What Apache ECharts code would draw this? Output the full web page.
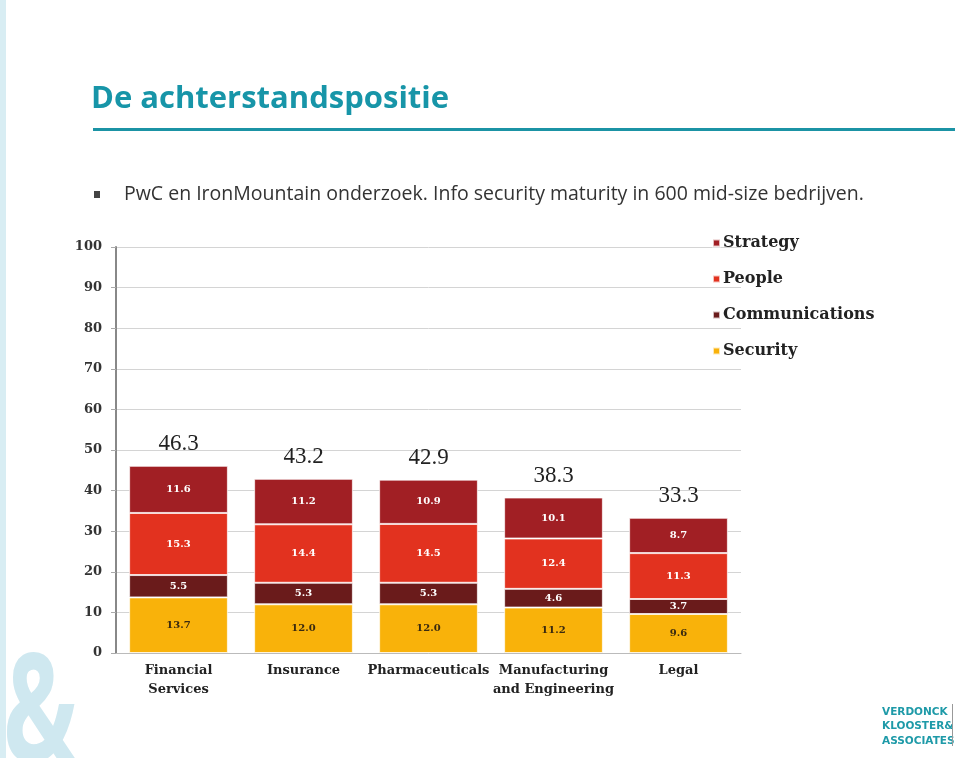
<!DOCTYPE html>
<html><head><meta charset="utf-8">
<script src="https://cdn.jsdelivr.net/npm/echarts@6/dist/echarts.min.js"></script>
<style>html,body{margin:0;padding:0;background:#fff}#c{width:960px;height:758px}</style>
</head><body><div id="c"></div>
<script>
const categories = ['Financial\nServices', 'Insurance', 'Pharmaceuticals', 'Manufacturing\nand Engineering', 'Legal'];
const security = [13.7, 12.0, 12.0, 11.2, 9.6];
const communications = [5.5, 5.3, 5.3, 4.6, 3.7];
const people = [15.3, 14.4, 14.5, 12.4, 11.3];
const strategy = [11.6, 11.2, 10.9, 10.1, 8.7];
const totals = [46.3, 43.2, 42.9, 38.3, 33.3];
const yTicks = [0, 10, 20, 30, 40, 50, 60, 70, 80, 90, 100];

const serif = '"DejaVu Serif", "Liberation Serif", serif';
const serif2 = '"Liberation Serif", "DejaVu Serif", serif';
const colors = { Strategy: '#A11F24', People: '#E2321F', Communications: '#6A1B1B', Security: '#F9B20A' };

function seg(name, data, labelColor) {
  return {
    name, type: 'bar', stack: 's', data, barWidth: '79%',
    itemStyle: { color: colors[name], borderColor: 'rgba(255,255,255,0.7)', borderWidth: 1 },
    label: { show: true, position: 'inside', color: labelColor, fontFamily: serif, fontWeight: 'bold', fontSize: 10,
      formatter: p => p.value.toFixed(1) },
    emphasis: { disabled: true }
  };
}

const chart = echarts.init(document.getElementById('c'));
chart.setOption({
  animation: false,
  backgroundColor: '#fff',
  grid: { left: 116, right: 219, top: 247, bottom: 105 },
  legend: {
    orient: 'vertical', left: 707, top: 230, itemWidth: 7, itemHeight: 7, itemGap: 20, icon: 'rect',
    data: ['Strategy', 'People', 'Communications', 'Security'],
    textStyle: { fontFamily: serif, fontWeight: 'bold', fontSize: 16, color: '#222', padding: [0, 0, 0, -2] }
  },
  xAxis: {
    type: 'category', data: categories,
    axisLine: { show: true, lineStyle: { color: '#bbb' } },
    axisTick: { show: false },
    axisLabel: { fontFamily: serif, fontWeight: 'bold', fontSize: 13, color: '#222', lineHeight: 19, margin: 8, interval: 0 }
  },
  yAxis: {
    type: 'value', min: 0, max: 100, interval: 10,
    axisLine: { show: true, lineStyle: { color: '#888', width: 2 } },
    axisTick: { show: true, length: 5, lineStyle: { color: '#aaa' } },
    axisLabel: { fontFamily: serif, fontWeight: 'bold', fontSize: 13, color: '#333', margin: 14,
      formatter: v => yTicks.includes(v) ? String(v) : '' },
    splitLine: { lineStyle: { color: '#d4d4d4', width: 1 } }
  },
  series: [
    seg('Security', security, '#3a2a10'),
    seg('Communications', communications, '#fff'),
    seg('People', people, '#fff'),
    seg('Strategy', strategy, '#fff'),
    {
      name: 'Total', type: 'bar', stack: 's', data: totals.map(() => 0), barWidth: '79%',
      label: { show: true, position: 'top', distance: 10, fontFamily: serif2, fontSize: 23, color: '#222',
        formatter: p => totals[p.dataIndex].toFixed(1) },
      itemStyle: { color: 'transparent' }
    }
  ],
  graphic: [
    { type: 'text', x: 3, y: 644, scaleX: 0.66, style: { text: '&', fontFamily: '"Open Sans", sans-serif', fontWeight: 'bold', fontSize: 150, fill: '#CFE8F0' } },
    { type: 'rect', left: 0, top: 0, shape: { width: 6, height: 758 }, style: { fill: '#D8EDF3' } },
    { type: 'text', left: 91, top: 84, style: { text: 'De achterstandspositie', fontFamily: '"Open Sans", sans-serif', fontWeight: 'bold', fontSize: 31, fill: '#1795A8' } },
    { type: 'rect', left: 93, top: 128, shape: { width: 862, height: 3 }, style: { fill: '#1B93A5' } },
    { type: 'rect', left: 94, top: 191, shape: { width: 6, height: 7 }, style: { fill: '#444' } },
    { type: 'text', left: 124, top: 184, style: { text: 'PwC en IronMountain onderzoek. Info security maturity in 600 mid-size bedrijven.', fontFamily: '"Open Sans", sans-serif', fontSize: 19.5, fill: '#333' } },
    { type: 'text', left: 882, top: 705, style: { text: 'VERDONCK\nKLOOSTER&\nASSOCIATES', fontFamily: '"DejaVu Sans", sans-serif', fontWeight: 'bold', fontSize: 10.5, lineHeight: 14.5, fill: '#1E9AA8' } },
    { type: 'rect', left: 952, top: 704, shape: { width: 1, height: 42 }, style: { fill: '#999' } }
  ]
});
</script></body></html>
